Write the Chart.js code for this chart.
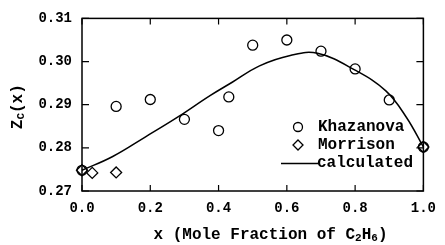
<!DOCTYPE html>
<html>
<head>
<meta charset="utf-8">
<script src="https://cdn.jsdelivr.net/npm/chart.js@4/dist/chart.umd.min.js"></script>
<style>
  html, body { margin: 0; padding: 0; background: #fff; }
  #wrap { width: 445px; height: 245px; }
</style>
</head>
<body>
<div id="wrap"><canvas id="c" width="445" height="245"></canvas></div>
<script>
// values
const khazX = [0.0, 0.1, 0.2, 0.3, 0.4, 0.43, 0.5, 0.6, 0.7, 0.8, 0.9, 1.0];
const khazZ = [0.2748, 0.2896, 0.2912, 0.2866, 0.2840, 0.2918, 0.3038, 0.3050, 0.3024, 0.2983, 0.2911, 0.2802];
const morrX = [0.0, 0.03, 0.1, 1.0];
const morrZ = [0.2748, 0.2742, 0.2743, 0.2802];
const calcX = [0.0, 0.09, 0.185, 0.28, 0.375, 0.44, 0.52, 0.61, 0.69, 0.8, 0.89, 0.95, 1.0];
const calcZ = [0.2748, 0.2780, 0.2825, 0.2871, 0.2921, 0.2952, 0.2990, 0.3014, 0.3019, 0.2980, 0.2932, 0.2871, 0.2802];
const xTicks = [0.0, 0.2, 0.4, 0.6, 0.8, 1.0];
const yTicks = [0.27, 0.28, 0.29, 0.30, 0.31];

const FONT = "'Liberation Mono', 'DejaVu Sans Mono', monospace";
const pts = (xs, ys) => xs.map((x, i) => ({ x: x, y: ys[i] }));

// draws a run of [text, size, dy] pieces, centred on 0
function drawRun(ctx, parts, cx, cy) {
  let w = 0;
  parts.forEach(p => { ctx.font = 'bold ' + p[1] + 'px ' + FONT; w += ctx.measureText(p[0]).width; });
  let x0 = cx - w / 2;
  parts.forEach(p => {
    ctx.font = 'bold ' + p[1] + 'px ' + FONT;
    ctx.fillText(p[0], x0, cy + p[2]);
    x0 += ctx.measureText(p[0]).width;
  });
}

// frame, inward ticks, legend and axis titles
const decor = {
  id: 'decor',
  afterDraw(chart) {
    const ctx = chart.ctx;
    const a = chart.chartArea;
    const sx = chart.scales.x, sy = chart.scales.y;
    ctx.save();
    ctx.strokeStyle = '#000';
    ctx.lineWidth = 1.5;
    ctx.strokeRect(a.left, a.top, a.right - a.left, a.bottom - a.top);

    ctx.lineWidth = 1.2;
    ctx.beginPath();
    xTicks.forEach(v => {
      const px = sx.getPixelForValue(v);
      ctx.moveTo(px, a.bottom); ctx.lineTo(px, a.bottom - 6);
      ctx.moveTo(px, a.top); ctx.lineTo(px, a.top + 6);
    });
    yTicks.forEach(v => {
      const py = sy.getPixelForValue(v);
      ctx.moveTo(a.left, py); ctx.lineTo(a.left + 7, py);
      ctx.moveTo(a.right, py); ctx.lineTo(a.right - 7, py);
    });
    ctx.stroke();

    // legend
    ctx.fillStyle = '#000';
    ctx.font = 'bold 16px ' + FONT;
    ctx.textBaseline = 'middle';
    ctx.textAlign = 'left';
    const lx = 298, tx = 318;
    ctx.lineWidth = 1.3;
    ctx.beginPath();
    ctx.arc(lx, 127, 4.5, 0, Math.PI * 2);
    ctx.stroke();
    ctx.fillText('Khazanova', tx, 127);
    ctx.beginPath();
    ctx.moveTo(lx, 140); ctx.lineTo(lx + 5, 145); ctx.lineTo(lx, 150); ctx.lineTo(lx - 5, 145);
    ctx.closePath();
    ctx.stroke();
    ctx.fillText('Morrison', tx, 145);
    ctx.lineWidth = 1.5;
    ctx.beginPath();
    ctx.moveTo(281, 163.5); ctx.lineTo(318, 163.5);
    ctx.stroke();
    ctx.fillText('calculated', 317, 163);

    // x title with subscripts
    drawRun(ctx, [['x (Mole Fraction of C', 16, 0], ['2', 11, 3], ['H', 16, 0], ['6', 11, 3], [')', 16, 0]],
      270.5, 235);

    // y title
    ctx.translate(18, (a.top + a.bottom) / 2 + 2);
    ctx.rotate(-Math.PI / 2);
    drawRun(ctx, [['Z', 16, 0], ['C', 11, 3], ['(x)', 16, 0]], 0, 0);
    ctx.restore();
  }
};

new Chart(document.getElementById('c'), {
  type: 'scatter',
  data: {
    datasets: [
      {
        label: 'Khazanova',
        data: pts(khazX, khazZ),
        pointStyle: 'circle',
        pointRadius: 5,
        pointBorderWidth: 1.3,
        borderColor: '#000',
        backgroundColor: 'rgba(0,0,0,0)',
        clip: false
      },
      {
        label: 'Morrison',
        data: pts(morrX, morrZ),
        pointStyle: 'rectRot',
        pointRadius: 5.5,
        pointBorderWidth: 1.3,
        borderColor: '#000',
        backgroundColor: 'rgba(0,0,0,0)',
        clip: false
      },
      {
        label: 'calculated',
        data: pts(calcX, calcZ),
        showLine: true,
        pointRadius: 0,
        borderWidth: 1.5,
        borderColor: '#000',
        tension: 0.4,
        clip: false
      }
    ]
  },
  options: {
    responsive: false,
    animation: false,
    events: [],
    layout: { padding: { top: 17, right: 13, left: 0, bottom: 0 } },
    plugins: { legend: { display: false }, tooltip: { enabled: false } },
    scales: {
      x: {
        type: 'linear',
        min: 0, max: 1,
        grid: { display: false, drawTicks: false },
        border: { display: false },
        afterBuildTicks(s) { s.ticks = xTicks.map(v => ({ value: v })); },
        afterFit(s) { s.height = 54; },
        ticks: {
          padding: 9,
          color: '#000',
          font: { family: FONT, size: 14, weight: 'bold' },
          maxRotation: 0,
          callback: v => v.toFixed(1)
        }
      },
      y: {
        type: 'linear',
        min: 0.27, max: 0.31,
        grid: { display: false, drawTicks: false },
        border: { display: false },
        afterBuildTicks(s) { s.ticks = yTicks.map(v => ({ value: v })); },
        afterFit(s) { s.width = 82; },
        ticks: {
          padding: 10,
          color: '#000',
          font: { family: FONT, size: 14, weight: 'bold' },
          callback: v => v.toFixed(2)
        }
      }
    }
  },
  plugins: [decor]
});
</script>
</body>
</html>
